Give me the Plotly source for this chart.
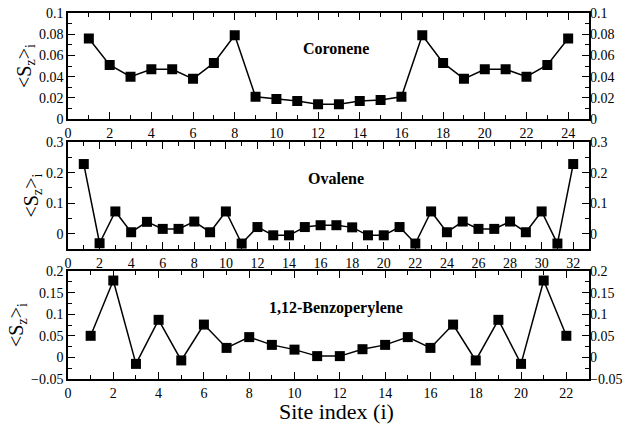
import plotly.graph_objects as go

coronene_sites = list(range(1, 25))
coronene_vals = [0.076, 0.051, 0.040, 0.047, 0.047, 0.038, 0.053, 0.079,
                 0.021, 0.019, 0.017, 0.014, 0.014, 0.017, 0.018, 0.021,
                 0.079, 0.053, 0.038, 0.047, 0.047, 0.040, 0.051, 0.076]

ovalene_sites = list(range(1, 33))
ovalene_vals = [0.228, -0.031, 0.073, 0.005, 0.039, 0.016, 0.016, 0.040,
                0.005, 0.073, -0.032, 0.022, -0.005, -0.005, 0.022, 0.028,
                0.028, 0.021, -0.005, -0.005, 0.022, -0.032, 0.073, 0.005,
                0.040, 0.016, 0.016, 0.040, 0.005, 0.073, -0.032, 0.228]

benzo_sites = list(range(1, 23))
benzo_vals = [0.050, 0.178, -0.015, 0.087, -0.007, 0.076, 0.022, 0.047,
              0.029, 0.018, 0.003, 0.003, 0.019, 0.029, 0.047, 0.022,
              0.076, -0.007, 0.087, -0.015, 0.178, 0.050]

panels = [
    dict(name="Coronene", x=coronene_sites, y=coronene_vals, xr=[0, 25], yr=[0, 0.1],
         xd=2, xm=1, yd=0.02, ym=0.01, dom=[0.710, 1.0]),
    dict(name="Ovalene", x=ovalene_sites, y=ovalene_vals, xr=[0, 33], yr=[-0.05, 0.3],
         xd=2, xm=1, yd=0.1, ym=0.05, dom=[0.355, 0.6475]),
    dict(name="1,12-Benzoperylene", x=benzo_sites, y=benzo_vals, xr=[0, 23], yr=[-0.05, 0.2],
         xd=2, xm=1, yd=0.05, ym=0.025, dom=[0.0, 0.295]),
]

FONT = "Liberation Serif"
fig = go.Figure()
layout = {}
for i, p in enumerate(panels):
    n = i + 1
    xa = "x" if n == 1 else f"x{n}"
    ya = "y" if n == 1 else f"y{n}"
    yr_name = f"y{n + 3}"
    fig.add_trace(go.Scatter(
        x=p["x"], y=p["y"], xaxis=xa, yaxis=ya, mode="lines+markers",
        line=dict(color="black", width=1.5),
        marker=dict(symbol="square", size=10, color="black"),
        showlegend=False, hoverinfo="x+y"))
    fig.add_trace(go.Scatter(
        x=p["x"], y=p["y"], xaxis=xa, yaxis=yr_name, mode="markers",
        marker=dict(opacity=0), showlegend=False, hoverinfo="skip"))
    axcommon = dict(showgrid=False, zeroline=False, showline=True, linecolor="black",
                    linewidth=1.5, ticks="inside", tickcolor="black", tickwidth=1.2,
                    ticklen=7, automargin=False,
                    tickfont=dict(family=FONT, size=14, color="black"))
    layout[f"xaxis{'' if n == 1 else n}"] = dict(
        **axcommon, range=p["xr"], dtick=p["xd"], tick0=0, mirror="ticks",
        anchor=ya, domain=[0, 1], ticklabelstandoff=0,
        minor=dict(dtick=p["xm"], ticks="inside", ticklen=4, tickcolor="black", tickwidth=1.2))
    layout[f"yaxis{'' if n == 1 else n}"] = dict(
        **axcommon, range=p["yr"], dtick=p["yd"], tick0=0, mirror="ticks",
        anchor=xa, domain=p["dom"],
        minor=dict(dtick=p["ym"], ticks="inside", ticklen=4, tickcolor="black", tickwidth=1.2),
        title=dict(text="&lt;S<sub>z</sub>&gt;<sub>i</sub>", font=dict(family=FONT, size=20, color="black"),
                   standoff=2))
    layout[f"yaxis{n + 3}"] = dict(
        range=p["yr"], dtick=p["yd"], tick0=0, overlaying=ya, side="right", anchor=xa,
        showgrid=False, zeroline=False, showline=False, ticks="", automargin=False,
        tickfont=dict(family=FONT, size=14, color="black"))
    fig.add_annotation(text=f"<b>{p['name']}</b>", xref=f"{xa} domain", yref=f"{ya} domain",
                       x=0.515, y=0.76, showarrow=False,
                       font=dict(family=FONT, size=16, color="black"))

fig.add_annotation(text="Site index (i)", xref="paper", yref="paper", x=0.515, y=-0.088,
                   yanchor="middle", showarrow=False,
                   font=dict(family=FONT, size=22, color="black"))

fig.update_layout(**layout)
fig.update_layout(width=627, height=425, margin=dict(l=68, r=38, t=13, b=46),
                  plot_bgcolor="white", paper_bgcolor="white",
                  font=dict(family=FONT, color="black"))
fig.write_html("out.html", config={"displayModeBar": False},
               post_script="document.body.style.margin='0';")
